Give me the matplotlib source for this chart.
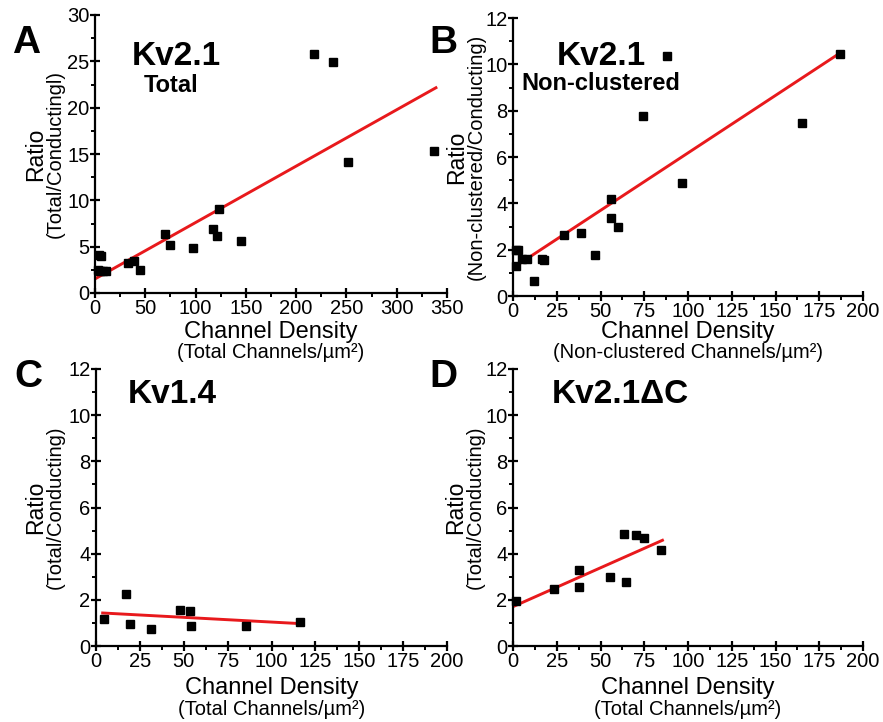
import numpy as np
import matplotlib
matplotlib.use("Agg")
import matplotlib.pyplot as plt
from matplotlib.ticker import MultipleLocator

plt.rcParams['font.family'] = ['Liberation Sans', 'DejaVu Sans']

W, H = 883, 722

# --- data ---
a_x = [4, 6, 2.7, 5, 8, 11, 33, 39, 45, 70, 75, 97, 117, 121, 123, 145, 218, 237, 252, 337]
a_y = [4.07, 4.0, 2.45, 2.4, 2.4, 2.4, 3.2, 3.5, 2.45, 6.4, 5.2, 4.9, 6.95, 6.1, 9.1, 5.6,
       25.75, 24.95, 14.1, 15.3]
a_fit_x = [0.5, 339]
a_fit_y = [1.55, 22.15]

b_x = [1.9, 2.9, 1.7, 5.1, 8, 16.5, 17.9, 11.8, 28.9, 39, 47, 56, 56, 60, 74, 88, 96.6, 165.4, 186.7]
b_y = [2.0, 2.0, 1.3, 1.6, 1.6, 1.6, 1.57, 0.63, 2.65, 2.72, 1.79, 4.2, 3.35, 2.99, 7.79, 10.34,
       4.89, 7.48, 10.45]
b_fit_x = [0.76, 186.7]
b_fit_y = [1.25, 10.48]

c_x = [4.7, 17.1, 19.6, 31.5, 48, 53.4, 54.1, 85.7, 116.4]
c_y = [1.16, 2.24, 0.97, 0.75, 1.58, 1.52, 0.88, 0.88, 1.04]
c_fit_x = [3.8, 116.4]
c_fit_y = [1.43, 0.97]

d_x = [1.5, 23.6, 37.8, 37.6, 55.5, 63.5, 64.3, 70.2, 74.9, 84.6]
d_y = [1.96, 2.45, 3.29, 2.54, 2.99, 4.87, 2.76, 4.81, 4.66, 4.16]
d_fit_x = [0.76, 85.4]
d_fit_y = [1.73, 4.58]

panels = [
    dict(letter='A', title='Kv2.1', sub='Total', x=a_x, y=a_y, fx=a_fit_x, fy=a_fit_y,
         xlim=350, xmaj=50, ylim=30, ymaj=5,
         ylab2='(Total/Conductingl)', xlab2='(Total Channels/µm²)',
         box=(95, 15, 447, 293)),
    dict(letter='B', title='Kv2.1', sub='Non-clustered', x=b_x, y=b_y, fx=b_fit_x, fy=b_fit_y,
         xlim=200, xmaj=25, ylim=12, ymaj=2,
         ylab2='(Non-clustered/Conducting)', xlab2='(Non-clustered Channels/µm²)',
         box=(513, 18, 863, 296)),
    dict(letter='C', title='Kv1.4', sub=None, x=c_x, y=c_y, fx=c_fit_x, fy=c_fit_y,
         xlim=200, xmaj=25, ylim=12, ymaj=2,
         ylab2='(Total/Conducting)', xlab2='(Total Channels/µm²)',
         box=(96, 369, 447, 646)),
    dict(letter='D', title='Kv2.1ΔC', sub=None, x=d_x, y=d_y, fx=d_fit_x, fy=d_fit_y,
         xlim=200, xmaj=25, ylim=12, ymaj=2,
         ylab2='(Total/Conducting)', xlab2='(Total Channels/µm²)',
         box=(513, 369, 863, 646)),
]

# text anchors in pixels (left/baseline)
letter_pos = [(12, 53), (429, 53), (14, 387), (429, 387)]
title_pos = [(132, 65), (557, 65), (128, 403), (552, 403)]
sub_pos = [(144, 92), (521, 90), None, None]
xlab_base = [(338, 358), (338, 358), (694, 715), (694, 715)]
ylab_base = [(42, 61), (463, 482), (42, 61), (462, 481)]


def fx(px):
    return px / W


def fy(py):
    return 1 - py / H


fig = plt.figure(figsize=(W / 100, H / 100), dpi=100)

for i, p in enumerate(panels):
    x0, y0, x1, y1 = p['box']
    ax = fig.add_axes([fx(x0), fy(y1), (x1 - x0) / W, (y1 - y0) / H])
    ax.plot(p['fx'], p['fy'], color='#e8191c', lw=2.1, zorder=2)
    ax.plot(p['x'], p['y'], 's', color='black', ms=5.5, zorder=3, clip_on=False)
    ax.set_xlim(0, p['xlim'])
    ax.set_ylim(0, p['ylim'])
    ax.xaxis.set_major_locator(MultipleLocator(p['xmaj']))
    ax.xaxis.set_minor_locator(MultipleLocator(p['xmaj'] / 2))
    ax.yaxis.set_major_locator(MultipleLocator(p['ymaj']))
    ax.yaxis.set_minor_locator(MultipleLocator(p['ymaj'] / 2))
    for s in ['top', 'right']:
        ax.spines[s].set_visible(False)
    for s in ['left', 'bottom']:
        ax.spines[s].set_linewidth(1.6)
    ax.tick_params(which='major', direction='inout', length=7, width=1.6,
                   labelsize=14.5, pad=0.5)
    ax.tick_params(which='minor', direction='out', length=3, width=1.4)

    lx, ly = letter_pos[i]
    fig.text(fx(lx), fy(ly), p['letter'], fontsize=28, fontweight='bold',
             ha='left', va='baseline')
    tx, ty = title_pos[i]
    fig.text(fx(tx), fy(ty), p['title'], fontsize=24, fontweight='bold',
             ha='left', va='baseline')
    if sub_pos[i] is not None:
        sx, sy = sub_pos[i]
        fig.text(fx(sx), fy(sy), p['sub'], fontsize=17, fontweight='bold',
                 ha='left', va='baseline')

    cx = (x0 + x1) / 2
    b1, b2 = xlab_base[i]
    fig.text(fx(cx), fy(b1), 'Channel Density', fontsize=17, ha='center', va='baseline')
    fig.text(fx(cx), fy(b2), p['xlab2'], fontsize=14.5, ha='center', va='baseline')

    cy = (y0 + y1) / 2
    r1, r2 = ylab_base[i]
    fig.text(fx(r1), fy(cy), 'Ratio', fontsize=16.5, rotation=90, rotation_mode='anchor',
             ha='center', va='baseline')
    fig.text(fx(r2), fy(cy), p['ylab2'], fontsize=14.5, rotation=90, rotation_mode='anchor',
             ha='center', va='baseline')

fig.savefig('out.png', dpi=100)
